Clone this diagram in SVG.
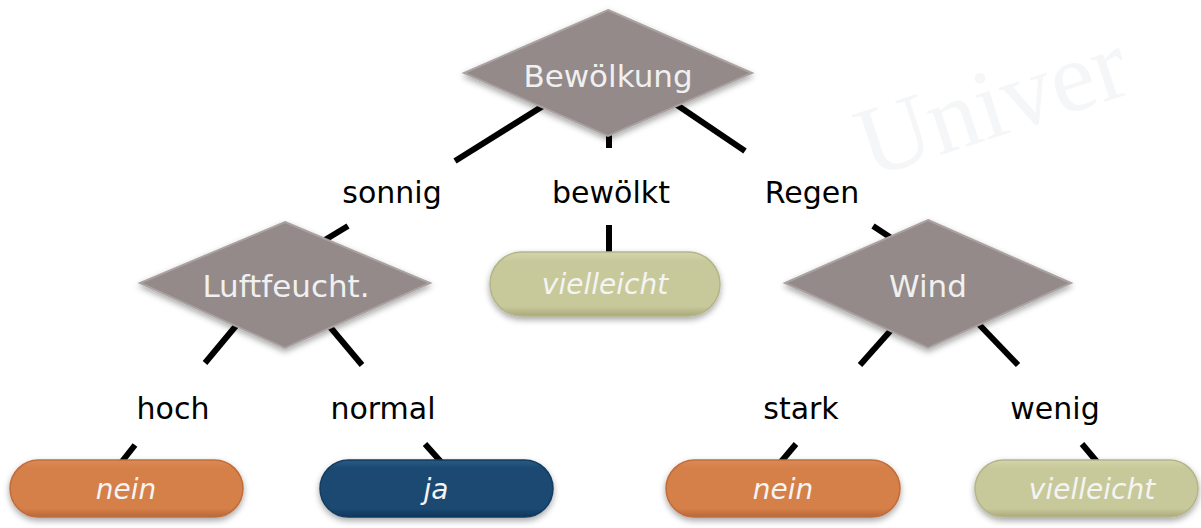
<svg xmlns="http://www.w3.org/2000/svg" width="1201" height="528" viewBox="0 0 1201 528">
<style>
.lbl{font-family:"DejaVu Sans","Liberation Sans",sans-serif;font-size:30px;fill:#000;text-anchor:middle}
.dtxt{font-family:"DejaVu Sans","Liberation Sans",sans-serif;font-size:31px;fill:#f0f0f0;text-anchor:middle}
.ptxt{font-family:"DejaVu Sans","Liberation Sans",sans-serif;font-size:28px;font-style:italic;fill:#f4f4f4;text-anchor:middle}
.dia{fill:#938a89;stroke:#aaa2a1;stroke-width:2;filter:url(#sh)}
.con line{stroke:#000;stroke-width:6}
.wm{font-family:"Liberation Serif",serif;font-size:100px;fill:#f5f6f8}
</style>
<defs>
<filter id="sh" x="-10%" y="-10%" width="120%" height="130%">
<feDropShadow dx="0" dy="3" stdDeviation="3" flood-color="#000" flood-opacity="0.35"/>
</filter>
<linearGradient id="gO" x1="0" y1="0" x2="0" y2="1"><stop offset="0" stop-color="#dc8a55"/><stop offset="0.15" stop-color="#d57f48"/><stop offset="0.85" stop-color="#d57f48"/><stop offset="1" stop-color="#b8683a"/></linearGradient>
<linearGradient id="gB" x1="0" y1="0" x2="0" y2="1"><stop offset="0" stop-color="#2a5a82"/><stop offset="0.15" stop-color="#1a4a72"/><stop offset="0.85" stop-color="#1a4a72"/><stop offset="1" stop-color="#10355a"/></linearGradient>
<linearGradient id="gV" x1="0" y1="0" x2="0" y2="1"><stop offset="0" stop-color="#d4d4aa"/><stop offset="0.15" stop-color="#c8c99a"/><stop offset="0.85" stop-color="#c8c99a"/><stop offset="1" stop-color="#a9a97c"/></linearGradient>
</defs>
<rect width="1201" height="528" fill="#fff"/>
<text class="wm" transform="translate(870,178) rotate(-18)">Univer</text>

<g id="connectors" class="con">
<line x1="575" y1="86" x2="455" y2="161"/>
<line x1="348" y1="226" x2="300" y2="255"/>
<line x1="609" y1="120" x2="609" y2="148"/>
<line x1="609" y1="225" x2="609" y2="253"/>
<line x1="640" y1="80" x2="745" y2="151"/>
<line x1="873" y1="226" x2="905" y2="247"/>
<line x1="245" y1="315" x2="205" y2="363"/>
<line x1="135" y1="445" x2="120" y2="464"/>
<line x1="320" y1="315" x2="362" y2="365"/>
<line x1="425" y1="444" x2="442" y2="463"/>
<line x1="900" y1="320" x2="860" y2="365"/>
<line x1="796" y1="444" x2="780" y2="463"/>
<line x1="970" y1="315" x2="1018" y2="365"/>
<line x1="1082" y1="444" x2="1098" y2="463"/>
</g>

<g id="labels">
<text class="lbl" x="392" y="203">sonnig</text>
<text class="lbl" x="611" y="203">bewölkt</text>
<text class="lbl" x="812" y="203">Regen</text>
<text class="lbl" x="173" y="419">hoch</text>
<text class="lbl" x="383" y="419">normal</text>
<text class="lbl" x="801" y="419">stark</text>
<text class="lbl" x="1055" y="419">wenig</text>
</g>

<g id="n-bewoelkung">
<polygon class="dia" points="608,10 752,73 608,136 464,73"/>
<text class="dtxt" x="608" y="87">Bewölkung</text>
</g>
<g id="n-luftfeucht">
<polygon class="dia" points="285,222 430,283 285,348 140,283"/>
<text class="dtxt" x="286" y="297">Luftfeucht.</text>
</g>
<g id="n-wind">
<polygon class="dia" points="928,220 1071,283 928,348 785,283"/>
<text class="dtxt" x="928" y="297">Wind</text>
</g>

<g id="n-vielleicht1">
<rect x="490" y="252" width="230" height="64" rx="32" fill="url(#gV)" stroke="#b4b588" stroke-width="1.5" filter="url(#sh)"/>
<text class="ptxt" x="605" y="294">vielleicht</text>
</g>
<g id="n-nein1">
<rect x="10" y="460" width="233" height="57" rx="28.5" fill="url(#gO)" stroke="#c06d3c" stroke-width="1.5" filter="url(#sh)"/>
<text class="ptxt" x="126" y="499">nein</text>
</g>
<g id="n-ja">
<rect x="320" y="460" width="233" height="57" rx="28.5" fill="url(#gB)" stroke="#123c62" stroke-width="1.5" filter="url(#sh)"/>
<text class="ptxt" x="436" y="499">ja</text>
</g>
<g id="n-nein2">
<rect x="666" y="460" width="234" height="57" rx="28.5" fill="url(#gO)" stroke="#c06d3c" stroke-width="1.5" filter="url(#sh)"/>
<text class="ptxt" x="783" y="499">nein</text>
</g>
<g id="n-vielleicht2">
<rect x="975" y="460" width="223" height="57" rx="28.5" fill="url(#gV)" stroke="#b4b588" stroke-width="1.5" filter="url(#sh)"/>
<text class="ptxt" x="1092" y="499">vielleicht</text>
</g>
</svg>
